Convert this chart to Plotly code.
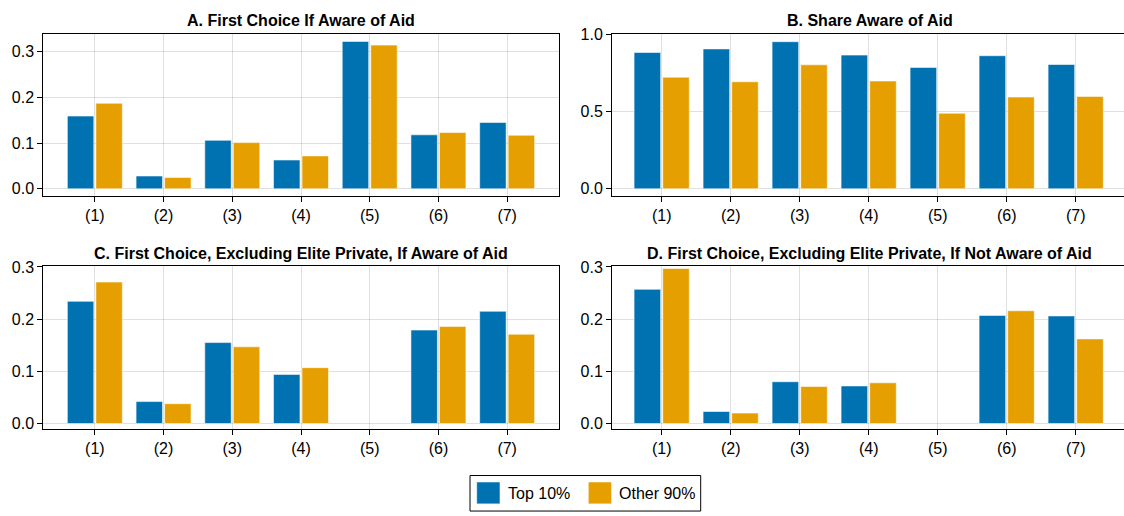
import plotly.graph_objects as go

# Categories and series values
categories = [1, 2, 3, 4, 5, 6, 7]
tick_labels = ["(1)", "(2)", "(3)", "(4)", "(5)", "(6)", "(7)"]
series_names = ["Top 10%", "Other 90%"]

a_top10 = [0.159, 0.028, 0.106, 0.063, 0.322, 0.118, 0.145]
a_other90 = [0.187, 0.025, 0.101, 0.072, 0.314, 0.123, 0.117]

b_top10 = [0.884, 0.907, 0.954, 0.867, 0.787, 0.863, 0.806]
b_other90 = [0.724, 0.694, 0.804, 0.699, 0.490, 0.595, 0.599]

c_top10 = [0.234, 0.042, 0.155, 0.094, None, 0.179, 0.215]
c_other90 = [0.271, 0.038, 0.147, 0.107, None, 0.186, 0.171]

d_top10 = [0.257, 0.023, 0.080, 0.072, None, 0.207, 0.206]
d_other90 = [0.297, 0.020, 0.071, 0.078, None, 0.216, 0.162]

titles = [
    "A. First Choice If Aware of Aid",
    "B. Share Aware of Aid",
    "C. First Choice, Excluding Elite Private, If Aware of Aid",
    "D. First Choice, Excluding Elite Private, If Not Aware of Aid",
]

BLUE = "#0072B2"
ORANGE = "#E69F00"
FONT = "Liberation Sans"
W, H = 1124, 516


def px_x(x):
    return x / W


def px_y(y):
    return (H - y) / H


# Panel geometry (pixels) and axis ranges; right-column panels run off the page edge
panels = [
    dict(data=(a_top10, a_other90), x=(43.3, 558.7), y=(26.7, 192.3),
         xr=[0.25, 7.75], yr=[-0.0161, 0.338], ticks=[0.0, 0.1, 0.2, 0.3], right=True),
    dict(data=(b_top10, b_other90), x=(612.0, 1124.0), y=(26.7, 192.3),
         xr=[0.28, 7.70], yr=[-0.048, 1.003], ticks=[0.0, 0.5, 1.0], right=False),
    dict(data=(c_top10, c_other90), x=(43.3, 558.7), y=(264.0, 430.0),
         xr=[0.25, 7.75], yr=[-0.0102, 0.301], ticks=[0.0, 0.1, 0.2, 0.3], right=True),
    dict(data=(d_top10, d_other90), x=(612.0, 1124.0), y=(264.0, 430.0),
         xr=[0.28, 7.70], yr=[-0.0102, 0.301], ticks=[0.0, 0.1, 0.2, 0.3], right=False),
]

bar_w = 0.385
dodge_gap = 0.03

fig = go.Figure()
layout = dict(
    width=W, height=H,
    margin=dict(l=0, r=0, t=0, b=0),
    paper_bgcolor="white", plot_bgcolor="white",
    barmode="overlay", showlegend=False,
    font=dict(family=FONT, size=16, color="black"),
)
annotations = []

for i, p in enumerate(panels):
    n = i + 1
    xa = "x" if n == 1 else f"x{n}"
    ya = "y" if n == 1 else f"y{n}"
    top, other = p["data"]
    for vals, color, off in ((top, BLUE, -0.4), (other, ORANGE, -0.4 + bar_w + dodge_gap)):
        fig.add_trace(go.Bar(
            x=categories, y=vals, xaxis=xa, yaxis=ya,
            width=bar_w, offset=off,
            marker=dict(color=color, line=dict(color="rgba(255,255,255,0.55)", width=1)),
        ))
    axis_common = dict(
        showline=True, linecolor="black", linewidth=1,
        showgrid=True, gridcolor="rgba(0,0,0,0.12)", gridwidth=1,
        zeroline=False, ticks="outside", ticklen=5, tickwidth=1, tickcolor="black",
        tickfont=dict(family=FONT, size=16, color="black"),
        fixedrange=True,
    )
    layout["xaxis" if n == 1 else f"xaxis{n}"] = dict(
        axis_common, mirror=True, domain=[px_x(p["x"][0]), px_x(p["x"][1])],
        range=p["xr"], tickmode="array", tickvals=categories, ticktext=tick_labels,
        anchor=ya,
    )
    layout["yaxis" if n == 1 else f"yaxis{n}"] = dict(
        axis_common, mirror=p["right"], domain=[px_y(p["y"][1]), px_y(p["y"][0])],
        range=p["yr"], tickmode="array", tickvals=p["ticks"],
        ticktext=[f"{t:.1f}" for t in p["ticks"]],
        anchor=xa,
    )
    annotations.append(dict(
        text=titles[i], xref="paper", yref="paper",
        x=px_x((p["x"][0] + p["x"][1]) / 2) if n % 2 else px_x((612.0 + 1127.4) / 2),
        y=px_y(p["y"][0] - 13.5), xanchor="center", yanchor="middle",
        showarrow=False, font=dict(family=FONT, size=16, color="black", weight="bold"),
    ))

# Legend: framed box with two swatches
shapes = [
    dict(type="rect", xref="paper", yref="paper",
         x0=px_x(470), x1=px_x(700.7), y0=px_y(514), y1=px_y(477.7),
         line=dict(color="black", width=1), fillcolor="white"),
]
legend_items = [(BLUE, 476.7, series_names[0]), (ORANGE, 588.3, series_names[1])]
for color, sx, label in legend_items:
    shapes.append(dict(type="rect", xref="paper", yref="paper",
                       x0=px_x(sx), x1=px_x(sx + 23.3), y0=px_y(506.7), y1=px_y(484.3),
                       line=dict(color="rgba(255,255,255,0.55)", width=1), fillcolor=color))
    annotations.append(dict(
        text=label, xref="paper", yref="paper", x=px_x(sx + 29), y=px_y(496),
        xanchor="left", yanchor="middle", showarrow=False,
        font=dict(family=FONT, size=16, color="black"),
    ))

layout["annotations"] = annotations
layout["shapes"] = shapes
fig.update_layout(**layout)
fig.write_html("out.html")
